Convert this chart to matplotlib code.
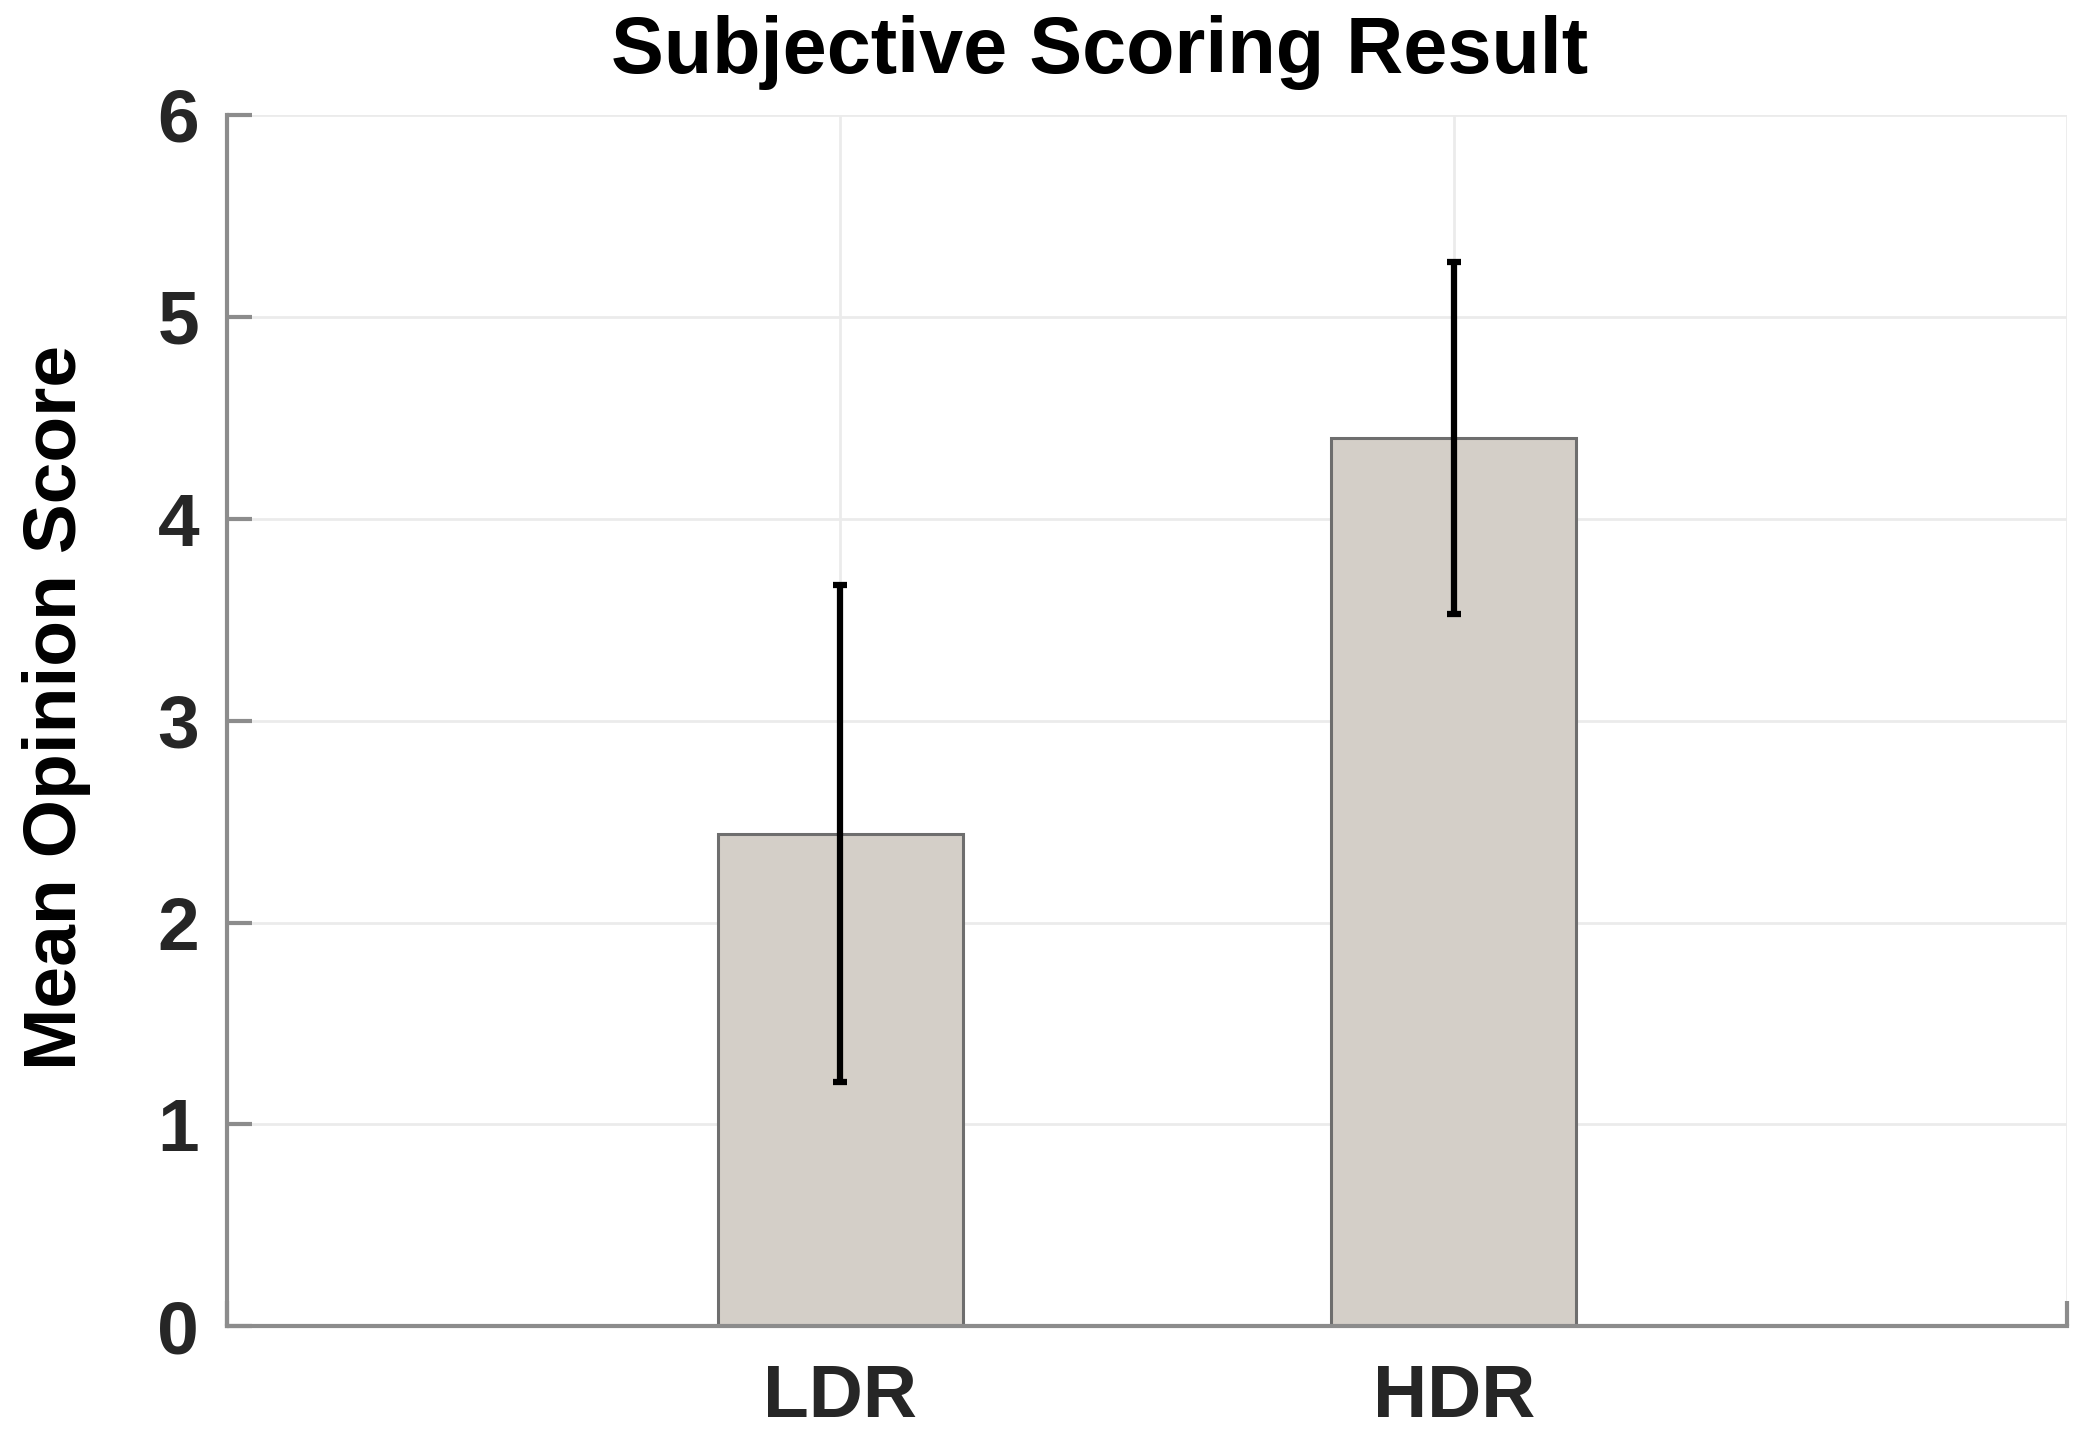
import matplotlib.pyplot as plt
import numpy as np

# data
categories = ['LDR', 'HDR']
mos_means = [2.44, 4.40]
mos_err = [1.23, 0.87]

plt.rcParams['font.family'] = ['Liberation Sans', 'DejaVu Sans']
plt.rcParams['font.weight'] = 'bold'

fig = plt.figure(figsize=(20.92, 14.38), dpi=100)
ax = fig.add_axes([0.1085, 0.0776, 0.8796, 0.8425])

x = np.arange(1, len(categories) + 1)
ax.bar(x, mos_means, width=0.4, color='#d4cfc8', edgecolor='#6e6e6e',
       linewidth=2.2, zorder=2)
ax.errorbar(x, mos_means, yerr=mos_err, fmt='none', ecolor='black',
            elinewidth=4.5, capsize=5, capthick=4.5, zorder=3)

ax.set_xlim(0, 3)
ax.set_ylim(0, 6)
ax.set_xticks([0, 1, 2, 3])
ax.set_xticklabels([''] + categories + [''])
ax.set_yticks(range(0, 7))

ax.grid(True, color='#ebebeb', linewidth=2, zorder=0)
ax.set_axisbelow(True)
for side in ['top', 'right']:
    ax.spines[side].set_visible(False)
for side in ['left', 'bottom']:
    ax.spines[side].set_color('#8c8c8c')
    ax.spines[side].set_linewidth(3)

ax.tick_params(axis='both', direction='in', length=18, width=3,
               color='#8c8c8c', labelsize=54, labelcolor='#262626')
ax.tick_params(axis='y', pad=20)
ax.tick_params(axis='x', pad=26)

ax.set_ylabel('Mean Opinion Score', fontsize=54, fontweight='bold',
              labelpad=48, color='black')
ax.yaxis.label.set_y(0.511)
ax.set_title('Subjective Scoring Result', fontsize=57, fontweight='bold',
             pad=30, color='black', x=0.474)

fig.savefig('out.png', dpi=100)
